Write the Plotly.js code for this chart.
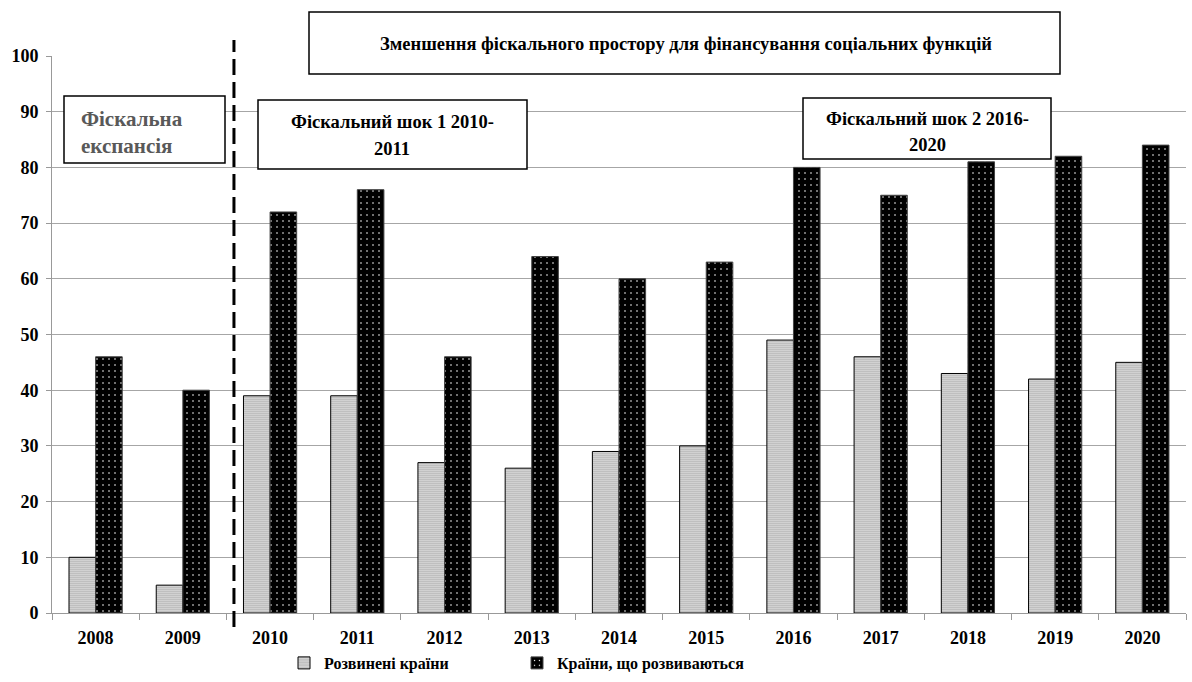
<!DOCTYPE html>
<html>
<head>
<meta charset="utf-8">
<script src="https://cdn.plot.ly/plotly-3.0.1.min.js"></script>
<style>html,body{margin:0;padding:0;background:#fff;}#chart{width:1192px;height:682px;}</style>
</head>
<body>
<div id="chart"></div>
<script>
var years = ['2008','2009','2010','2011','2012','2013','2014','2015','2016','2017','2018','2019','2020'];
var developed = [10, 5, 39, 39, 27, 26, 29, 30, 49, 46, 43, 42, 45];
var developing = [46, 40, 72, 76, 46, 64, 60, 63, 80, 75, 81, 82, 84];
var seriesNames = ['Розвинені країни', 'Країни, що розвиваються'];
var topNote = 'Зменшення фіскального простору для фінансування соціальних функцій';
var expansionLines = ['Фіскальна', 'експансія'];
var shock1Lines = ['Фіскальний шок 1 2010-', '2011'];
var shock2Lines = ['Фіскальний шок 2 2016-', '2020'];

var FONT = 'Liberation Serif';

var traces = [
  {
    type: 'bar', x: years, y: developed, name: seriesNames[0],
    marker: {
      color: '#ffffff',
      pattern: {shape: '.', fgcolor: '#000000', bgcolor: '#ffffff', size: 2, solidity: 0.26},
      line: {color: '#000000', width: 1}
    },
    hoverinfo: 'x+y'
  },
  {
    type: 'bar', x: years, y: developing, name: seriesNames[1],
    marker: {
      color: '#000000',
      pattern: {shape: '.', fgcolor: '#ffffff', bgcolor: '#000000', size: 6, solidity: 0.06},
      line: {color: '#444444', width: 1}
    },
    hoverinfo: 'x+y'
  }
];

function px2x(p){ return (p - 52) / 1134; }
function px2y(p){ return (613 - p) / 557; }

function box(x0, x1, y0, y1){
  return {type: 'rect', xref: 'paper', yref: 'paper', x0: px2x(x0), x1: px2x(x1), y0: px2y(y1), y1: px2y(y0),
          line: {color: '#000000', width: 1.5}, fillcolor: '#ffffff', layer: 'above'};
}
function note(text, xpx, ypx, anchor, size, color){
  return {xref: 'paper', yref: 'paper', x: px2x(xpx), y: px2y(ypx), text: text, showarrow: false,
          xanchor: anchor, yanchor: 'middle', font: {family: FONT, size: size, color: color, weight: 'bold'}};
}

var layout = {
  width: 1192, height: 682,
  margin: {l: 52, r: 6, t: 56, b: 69, autoexpand: false},
  paper_bgcolor: '#ffffff', plot_bgcolor: '#ffffff',
  barmode: 'group', bargap: 0.39, bargroupgap: 0,
  showlegend: true,
  legend: {
    orientation: 'h', x: px2x(284), xanchor: 'left', y: px2y(663), yanchor: 'middle',
    font: {family: FONT, size: 16, color: '#000000', weight: 'bold'},
    entrywidth: 188, entrywidthmode: 'pixels', traceorder: 'normal'
  },
  font: {family: FONT, color: '#000000'},
  xaxis: {
    type: 'category', tickson: 'boundaries', ticks: 'outside', ticklen: 6, tickcolor: '#999999',
    showline: true, linecolor: '#999999', linewidth: 1, showgrid: false, ticklabelstandoff: 8,
    automargin: false,
    tickfont: {family: FONT, size: 18, color: '#000000', weight: 'bold'}, fixedrange: true
  },
  yaxis: {
    range: [0, 100], dtick: 10, ticks: 'outside', ticklen: 5, tickcolor: '#999999',
    showline: true, linecolor: '#999999', linewidth: 1, ticklabelstandoff: 4,
    automargin: false,
    showgrid: true, gridcolor: '#a6a6a6', gridwidth: 1, zeroline: false,
    tickfont: {family: FONT, size: 18, color: '#000000', weight: 'bold'}, fixedrange: true
  },
  shapes: [
    {type: 'line', xref: 'x', yref: 'paper', x0: 1.586, x1: 1.586, y0: px2y(627), y1: px2y(40),
     line: {color: '#000000', width: 3, dash: '16px,7px'}, layer: 'above'},
    box(309, 1060, 12, 74),
    box(64, 225, 96, 163),
    box(258, 527, 100, 169),
    box(803, 1051, 98, 159)
  ],
  annotations: [
    note(topNote, 686, 44, 'center', 18.5, '#000000'),
    note(expansionLines[0], 79, 119, 'left', 21, '#595959'),
    note(expansionLines[1], 79, 146, 'left', 21, '#595959'),
    note(shock1Lines[0], 392, 122, 'center', 18.5, '#000000'),
    note(shock1Lines[1], 392, 149, 'center', 18.5, '#000000'),
    note(shock2Lines[0], 927, 119, 'center', 18.5, '#000000'),
    note(shock2Lines[1], 927, 145, 'center', 18.5, '#000000')
  ]
};

Plotly.newPlot('chart', traces, layout, {displayModeBar: false, staticPlot: true});
</script>
</body>
</html>
